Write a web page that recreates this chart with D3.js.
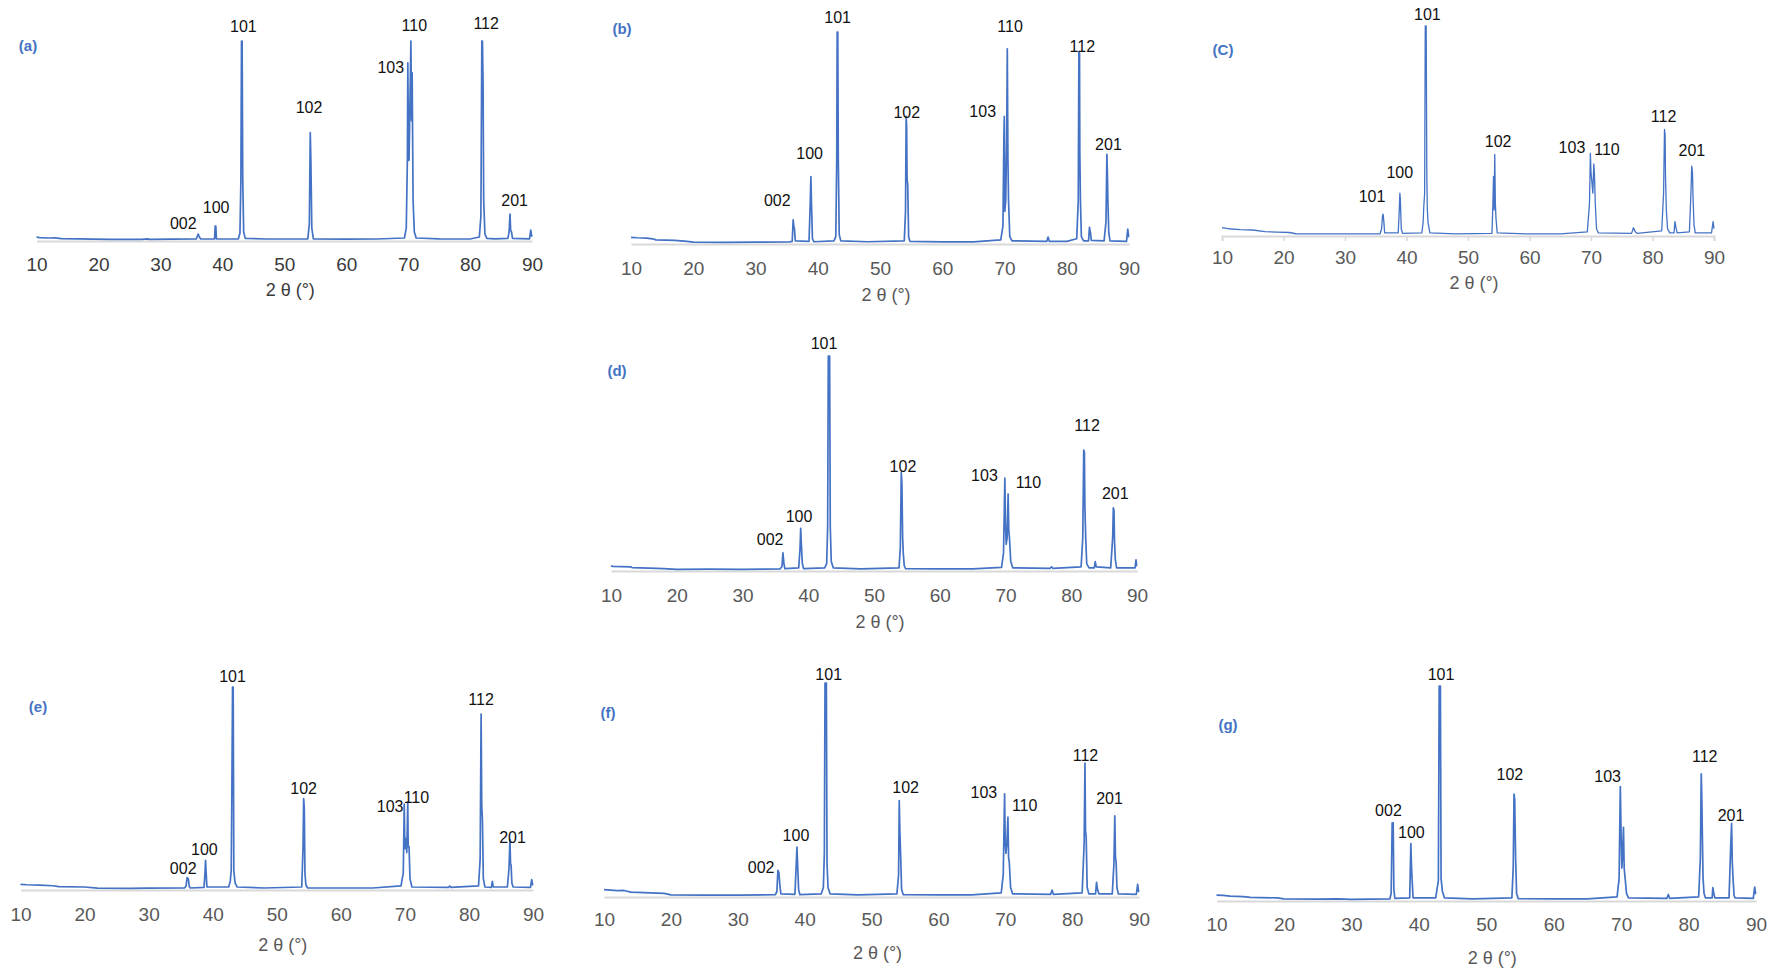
<!DOCTYPE html>
<html>
<head>
<meta charset="utf-8">
<script src="https://cdn.jsdelivr.net/npm/d3@7"></script>
<style>
  body { margin: 0; background: #fff; }
  svg { display: block; font-family: "Liberation Sans", Arial, sans-serif; }
</style>
</head>
<body>
<div id="wrapper"></div>
<script>
// 2θ ticks shared by every panel
const xTicks = [10, 20, 30, 40, 50, 60, 70, 80, 90];
const panelTags = ['(a)', '(b)', '(C)', '(d)', '(e)', '(f)', '(g)'];

// [2θ, relative intensity %]
const patternA = [
  [10,1.4],[10.5,1.2],[12,1.0],[13,1.1],[14,0.7],[17,0.6],[19,0.4],[22,0.3],[27,0.3],[28,0.6],[28.2,0.3],[32,0.4],[35.8,0.5],
  [36.1,3],[36.3,1.5],[36.5,0.5],
  [38.75,0.5],[38.85,7],[38.95,7],[39.05,0.5],
  [42.6,0.6],[42.85,3.5],[43.0,30],[43.1,100],[43.2,100],[43.3,30],[43.45,4],[43.7,0.8],
  [47,0.5],[53.8,0.6],[54.05,8],[54.2,54],[54.3,40],[54.45,6],[54.7,0.6],
  [60,0.4],[65,0.5],[69.4,1],[69.7,6],[69.88,40],[69.95,89],[70.05,50],[70.15,40],[70.35,80],[70.45,100],[70.55,60],[70.65,84],[70.8,20],[71.0,4],[71.3,1],
  [75,0.6],[80,0.5],[81.5,1.5],[81.75,12],[81.9,100],[82.0,100],[82.1,79],[82.2,20],[82.4,3],[82.7,0.8],
  [84,0.6],[86.1,0.8],[86.3,4],[86.45,13],[86.55,5],[86.7,4],[86.85,0.8],
  [89.6,0.6],[89.8,5],[89.95,2],[90,2.5]
];
const patternB = [
  [10,2.7],[11,2.5],[12.5,2.3],[13.5,2.0],[14,1.5],[17,1.2],[19,0.8],[20,0.4],[25,0.3],[30,0.4],[35.5,0.5],
  [35.9,0.8],[36.05,11],[36.15,8],[36.25,7],[36.4,1],
  [38.6,0.8],[38.8,20],[38.9,31.5],[39.0,18],[39.15,2],[39.4,0.6],
  [42.6,1],[42.9,3],[43.05,40],[43.12,100],[43.22,100],[43.3,40],[43.45,4],[43.7,1],
  [48,0.6],[53.9,1],[54.1,15],[54.2,60],[54.28,55],[54.35,30],[54.45,28],[54.6,3],[54.8,0.8],
  [60,0.5],[65,0.5],[69.4,1.5],[69.75,8],[69.9,50],[69.97,60],[70.05,15],[70.2,20],[70.35,50],[70.45,92],[70.55,40],[70.65,20],[70.85,3],[71.2,1],
  [76.8,0.8],[77.0,2.8],[77.2,0.8],[80,0.8],[81.6,2],[81.85,20],[81.95,90.5],[82.05,90],[82.1,43],[82.2,20],[82.35,3],[82.7,1],
  [83.5,1],[83.65,7.4],[83.8,5],[83.95,1.2],[86.0,1],[86.3,10],[86.45,42],[86.55,30],[86.6,21],[86.75,5],[86.95,1],
  [89.6,0.8],[89.8,6.6],[89.95,3],[90,3]
];
const patternC = [
  [10,3.5],[11,3.0],[13,2.6],[15,2.4],[17,1.6],[19,1.4],[21,1.2],[22,0.6],[25,0.5],[30,0.5],[35.7,0.6],
  [35.95,3],[36.1,9],[36.2,10],[36.3,7],[36.45,1],
  [38.65,1],[38.8,10],[38.92,20],[39.0,17],[39.15,3],[39.35,0.8],
  [42.5,1],[42.7,6],[42.8,13],[42.95,20],[43.05,100],[43.2,100],[43.3,30],[43.38,13],[43.5,6],[43.8,1],
  [48,0.5],[53.9,0.8],[54.05,15],[54.15,28],[54.25,12],[54.35,38.6],[54.45,15],[54.55,8],[54.75,1],
  [60,0.5],[65,0.5],[69.4,1.5],[69.75,15],[69.9,39],[70.0,30],[70.15,25],[70.3,20],[70.45,34],[70.55,30],[70.7,15],[70.9,3],[71.2,1],
  [76.6,0.8],[76.9,3.5],[77.2,1.5],[77.5,0.8],[81.5,2],[81.8,20],[81.95,50.5],[82.05,48],[82.12,27],[82.25,12],[82.45,3],[82.8,1],
  [83.5,1],[83.65,6.4],[83.85,3],[84.0,1],[86.0,1.5],[86.25,20],[86.38,33],[86.5,30],[86.6,17],[86.75,5],[86.95,1],
  [89.6,1],[89.85,6.4],[89.95,4],[90,3]
];
const patternD = [
  [10,1.9],[10.3,1.7],[13,1.5],[13.2,1.1],[17,0.8],[18,0.6],[20,0.3],[25,0.4],[30,0.3],[35.7,0.5],
  [36.0,1.5],[36.15,8],[36.3,3],[36.45,0.6],
  [38.55,1],[38.75,10],[38.85,19.5],[38.95,12],[39.1,3],[39.3,0.6],
  [42.5,1],[42.8,3],[42.95,20],[43.05,100],[43.25,100],[43.35,20],[43.5,4],[43.8,1],
  [48,0.5],[53.8,1],[54.0,10],[54.15,45.5],[54.25,40],[54.35,15.6],[54.45,8],[54.6,2],[54.8,0.6],
  [60,0.5],[65,0.5],[69.4,1.2],[69.7,8],[69.9,43],[70.0,22],[70.1,12],[70.25,15],[70.4,35.5],[70.5,18.7],[70.6,15],[70.8,4],[71.1,1],
  [76.8,0.8],[77.0,1.5],[77.2,0.8],[81.5,1.5],[81.75,15],[81.9,56],[82.0,55],[82.08,29],[82.2,15],[82.35,3],[82.7,1],
  [83.5,1],[83.65,3.9],[83.8,1.5],[86.0,1],[86.3,15],[86.4,29],[86.5,28],[86.58,13.7],[86.7,5],[86.9,1],
  [89.7,1],[89.85,4.7],[89.95,2],[90,2]
];
const patternE = [
  [10,2.3],[11,2.1],[13,1.9],[15,1.6],[16,1.2],[20,1.0],[22,0.4],[27,0.3],[30,0.4],[35.6,0.5],
  [35.85,1.5],[36.0,5.6],[36.2,5],[36.35,1.2],[36.5,0.5],
  [38.65,0.8],[38.8,8],[38.88,14.2],[38.98,8],[39.1,1],
  [42.5,1],[42.75,4],[42.9,9.6],[43.02,60],[43.1,100],[43.2,100],[43.3,9],[43.5,3],[43.8,1],
  [48,0.5],[53.9,1],[54.1,20],[54.2,44.7],[54.3,40],[54.4,8],[54.55,2],[54.8,0.6],
  [60,0.5],[65,0.5],[69.4,1.5],[69.75,8],[69.9,42],[70.0,20],[70.15,25],[70.3,18],[70.45,43],[70.52,21],[70.65,21],[70.8,5],[71.1,1],
  [76.8,0.8],[77.0,1.5],[77.2,0.8],[81.5,1.5],[81.75,15],[81.9,86.6],[82.0,41],[82.1,35],[82.25,5],[82.5,1],
  [83.5,0.8],[83.65,3.8],[83.8,1],[86.0,1],[86.25,10],[86.4,24.4],[86.5,12],[86.58,12],[86.7,3],[86.9,1],
  [89.6,0.8],[89.8,4.6],[89.95,2],[90,2]
];
const patternF = [
  [10,3],[11,2.8],[12,2.5],[13,2.6],[14,1.8],[17,1.5],[19,1.2],[20,0.5],[25,0.4],[30,0.4],[35.6,0.6],
  [35.85,2],[36.0,12],[36.15,11],[36.3,5],[36.45,1],
  [38.55,0.8],[38.75,15],[38.85,23],[38.95,15],[39.1,3],[39.3,0.6],
  [42.5,1],[42.8,4],[42.95,20],[43.05,100],[43.25,100],[43.35,15],[43.5,4],[43.8,1],
  [48,0.5],[53.8,1],[54.05,10],[54.15,44.8],[54.25,29.5],[54.35,20],[54.5,3],[54.75,0.6],
  [60,0.5],[65,0.5],[69.4,1.5],[69.7,10],[69.9,48],[70.0,25],[70.1,20],[70.25,25],[70.4,37],[70.5,18],[70.6,16],[70.8,4],[71.1,1],
  [76.8,0.8],[77.0,2.8],[77.2,0.8],[81.5,1.5],[81.8,25],[81.92,62.4],[82.0,30.6],[82.1,28],[82.25,4],[82.5,1],
  [83.5,1],[83.65,6.4],[83.8,3],[84.0,1],[86.0,1],[86.25,15],[86.38,37.6],[86.48,18],[86.58,16],[86.7,4],[86.9,1],
  [89.6,0.8],[89.8,5.5],[89.95,2],[90,2]
];
const patternG = [
  [10,2.3],[11,2.2],[12,1.8],[14,1.6],[15,1.2],[19,1.0],[20,0.5],[25,0.4],[28,0.5],[30,0.3],[35.7,0.5],
  [35.9,3],[36.05,36],[36.2,36],[36.3,5],[36.45,0.8],
  [38.65,1],[38.82,26.4],[38.92,15],[39.0,10],[39.15,1],
  [42.5,1],[42.75,6],[42.9,9],[43.02,100],[43.2,100],[43.3,10],[43.5,4],[43.8,1],
  [48,0.5],[53.8,1],[54.0,15],[54.12,49.5],[54.22,47],[54.35,20],[54.5,3],[54.75,0.6],
  [60,0.5],[65,0.5],[69.4,1.5],[69.7,10],[69.88,53],[70.0,30],[70.1,15],[70.2,20],[70.35,34],[70.45,15],[70.6,10],[70.8,3],[71.1,1],
  [76.8,0.8],[77.0,2.6],[77.2,0.8],[81.5,1.5],[81.75,20],[81.88,59],[81.95,50],[82.05,29.5],[82.15,10],[82.3,3],[82.5,1],
  [83.5,1],[83.6,5.8],[83.75,3],[83.9,1],[86.0,1],[86.25,25],[86.38,35.8],[86.48,18],[86.6,10],[86.75,2],[86.9,1],
  [89.6,0.8],[89.8,6],[89.95,3],[90,3]
];

// peak indices: [hkl, 2θ, intensity] where the label sits
const labelsA = [['002',33.7,8.1],['100',39.0,16.1],['101',43.4,107.4],['102',54.0,66.8],['103',67.2,86.9],['110',71.0,107.9],['112',82.6,109],['201',87.2,19.8]];
const labelsB = [['002',33.5,20],['100',38.7,42.5],['101',43.2,106.8],['102',54.3,61.7],['103',66.5,62.5],['110',70.9,102.8],['112',82.5,92.9],['201',86.7,46.9]];
const labelsC = [['101',34.4,18.3],['100',38.9,30],['101',43.4,105.3],['102',54.9,44.7],['103',66.9,41.8],['110',72.6,41.1],['112',81.8,56.9],['201',86.4,40.4]];
const labelsD = [['002',34.2,14.3],['100',38.6,25.2],['101',42.4,105.9],['102',54.4,48.3],['103',66.8,44.1],['110',73.5,41],['112',82.4,67.3],['201',86.7,35.8]];
const labelsE = [['002',35.4,10.2],['100',38.7,19.5],['101',43.1,105],['102',54.2,49.7],['103',67.7,40.9],['110',71.8,45.4],['112',81.9,93.7],['201',86.8,25.6]];
const labelsF = [['002',33.5,13.5],['100',38.7,28.4],['101',43.6,103.9],['102',55.1,50.9],['103',66.8,48.7],['110',72.9,42.3],['112',82.0,65.8],['201',85.6,45.6]];
const labelsG = [['002',35.5,42],['100',38.9,31.4],['101',43.3,105.3],['102',53.5,58.6],['103',68.0,57.9],['112',82.4,66.9],['201',86.3,39.7]];

const width = 1783, height = 971;

// where each pasted panel sits on the page
const layouts = [
  { x0: 36.5, x1: 532, base: 240, top: 41, tickY: 264, titleY: 290, tagX: 28, tagY: 45, tickMarks: false, dark: true },
  { x0: 631, x1: 1129, base: 243, top: 32, tickY: 268, titleY: 295, tagX: 622, tagY: 28, tickMarks: false },
  { x0: 1222, x1: 1714, base: 235, top: 26, tickY: 257, titleY: 283, tagX: 1223, tagY: 49, tickMarks: true, thin: true },
  { x0: 611, x1: 1137, base: 570, top: 356, tickY: 595, titleY: 622, tagX: 617, tagY: 370, tickMarks: false },
  { x0: 20.5, x1: 533, base: 889, top: 687, tickY: 914, titleY: 945, tagX: 38, tagY: 706, tickMarks: false },
  { x0: 604, x1: 1139, base: 896, top: 683, tickY: 919, titleY: 953, tagX: 608, tagY: 712, tickMarks: false },
  { x0: 1216.5, x1: 1756, base: 900, top: 686, tickY: 924, titleY: 958, tagX: 1228, tagY: 724, tickMarks: false }
];

const patterns = [patternA, patternB, patternC, patternD, patternE, patternF, patternG];
const peakLabels = [labelsA, labelsB, labelsC, labelsD, labelsE, labelsF, labelsG];

const svg = d3.select('#wrapper').append('svg').attr('width', width).attr('height', height);
svg.append('rect').attr('width', width).attr('height', height).attr('fill', '#fff');

patterns.forEach((data, i) => {
  const L = layouts[i];
  const x = d3.scaleLinear().domain([10, 90]).range([L.x0, L.x1]);
  const y = d3.scaleLinear().domain([0, 100]).range([L.base, L.top]);
  const g = svg.append('g').attr('class', 'panel');
  const textColor = L.dark ? '#3a3a3a' : '#595959';

  // axis line + tick labels
  const xAxis = d3.axisBottom(x).tickValues(xTicks).tickFormat(d3.format('d'))
    .tickSize(L.tickMarks ? 5 : 0).tickPadding(L.tickMarks ? 7 : 12);
  const axisG = g.append('g').attr('transform', `translate(0, ${L.base + 1})`).call(xAxis);
  axisG.select('.domain').attr('stroke', '#d9d9d9').attr('stroke-width', 2);
  axisG.selectAll('.tick line').attr('stroke', '#d9d9d9').attr('stroke-width', 1.5);
  axisG.selectAll('.tick text')
    .attr('y', null).attr('dy', null)
    .attr('transform', `translate(0, ${L.tickY - L.base - 1})`)
    .attr('dominant-baseline', 'central')
    .attr('fill', textColor)
    .style('font-size', '19px')
    .style('font-family', '"Liberation Sans", Arial, sans-serif');

  // pattern line
  const line = d3.line().x((d) => x(d[0])).y((d) => y(d[1]));
  g.append('path')
    .datum(data)
    .attr('d', line)
    .attr('fill', 'none')
    .attr('stroke', '#4472c4')
    .attr('stroke-width', L.thin ? 1.3 : 1.7)
    .attr('stroke-linejoin', 'round');

  // hkl labels
  g.selectAll('text.hkl')
    .data(peakLabels[i])
    .join('text')
    .attr('class', 'hkl')
    .attr('x', (d) => x(d[1]))
    .attr('y', (d) => y(d[2]))
    .attr('text-anchor', 'middle')
    .attr('dominant-baseline', 'central')
    .attr('fill', '#111')
    .style('font-size', '16px')
    .text((d) => d[0]);

  // axis title
  g.append('text')
    .attr('x', (L.x0 + L.x1) / 2 + 6)
    .attr('y', L.titleY)
    .attr('text-anchor', 'middle')
    .attr('dominant-baseline', 'central')
    .attr('fill', textColor)
    .style('font-size', '18px')
    .text('2 θ (°)');

  // panel tag
  g.append('text')
    .attr('x', L.tagX)
    .attr('y', L.tagY)
    .attr('text-anchor', 'middle')
    .attr('dominant-baseline', 'central')
    .attr('fill', '#4472c4')
    .style('font-size', '15px')
    .style('font-weight', 'bold')
    .text(panelTags[i]);
});
</script>
</body>
</html>
